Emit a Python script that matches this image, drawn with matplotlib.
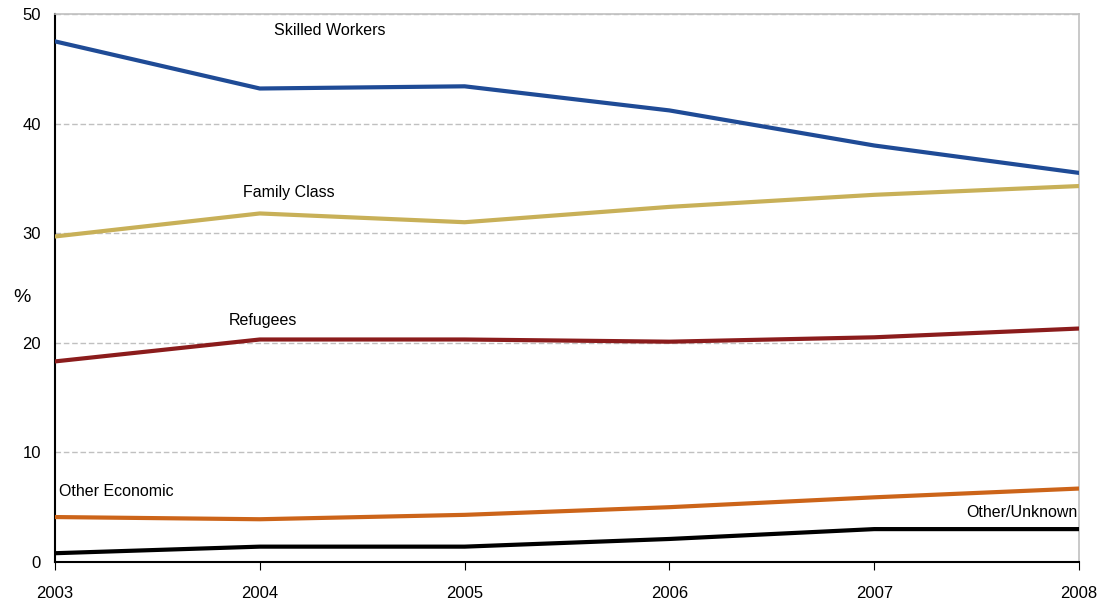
import matplotlib.pyplot as plt

plt.rcParams['font.family'] = ['Liberation Sans', 'DejaVu Sans']

years = [2003, 2004, 2005, 2006, 2007, 2008]
skilled = [47.5, 43.2, 43.4, 41.2, 38.0, 35.5]
family = [29.7, 31.8, 31.0, 32.4, 33.5, 34.3]
refugees = [18.3, 20.3, 20.3, 20.1, 20.5, 21.3]
other_econ = [4.1, 3.9, 4.3, 5.0, 5.9, 6.7]
other_unknown = [0.8, 1.4, 1.4, 2.1, 3.0, 3.0]

fig = plt.figure(figsize=(11.04, 6.05), dpi=100)
ax = fig.add_axes([0.0498, 0.0711, 0.9276, 0.9058])

lw = 3
ax.plot(years, skilled, color='#1f4b96', lw=lw, zorder=3)
ax.plot(years, family, color='#c8b058', lw=lw, zorder=3)
ax.plot(years, refugees, color='#8b1c1c', lw=lw, zorder=3)
ax.plot(years, other_econ, color='#cc6419', lw=lw, zorder=3)
ax.plot(years, other_unknown, color='black', lw=lw, zorder=3)

fs = 11.5
ax.text(2004.07, 48.5, 'Skilled Workers', fontsize=fs, va='center', ha='left')
ax.text(2003.92, 33.7, 'Family Class', fontsize=fs, va='center', ha='left')
ax.text(2003.85, 22.0, 'Refugees', fontsize=fs, va='center', ha='left')
ax.text(2003.02, 6.4, 'Other Economic', fontsize=fs, va='center', ha='left')
ax.text(2007.99, 4.5, 'Other/Unknown', fontsize=fs, va='center', ha='right')

ax.set_xlim(2003, 2008)
ax.set_ylim(0, 50)
ax.set_yticks([0, 10, 20, 30, 40, 50])
ax.set_xticks(years)
ax.yaxis.grid(True, color='#c0c0c0', linestyle=(0, (4, 2)), lw=1)
ax.tick_params(axis='y', length=0, labelsize=12, pad=10)
ax.tick_params(axis='x', length=6, direction='out', labelsize=12, pad=11)

for side in ['left', 'bottom']:
    ax.spines[side].set_color('black')
    ax.spines[side].set_linewidth(1.5)
for side in ['right', 'top']:
    ax.spines[side].set_color('#c0c0c0')
    ax.spines[side].set_linewidth(1.2)

fig.text(22 / 1104, 1 - 297 / 605, '%', fontsize=14, ha='center', va='center')

plt.savefig('out.png', dpi=100)
